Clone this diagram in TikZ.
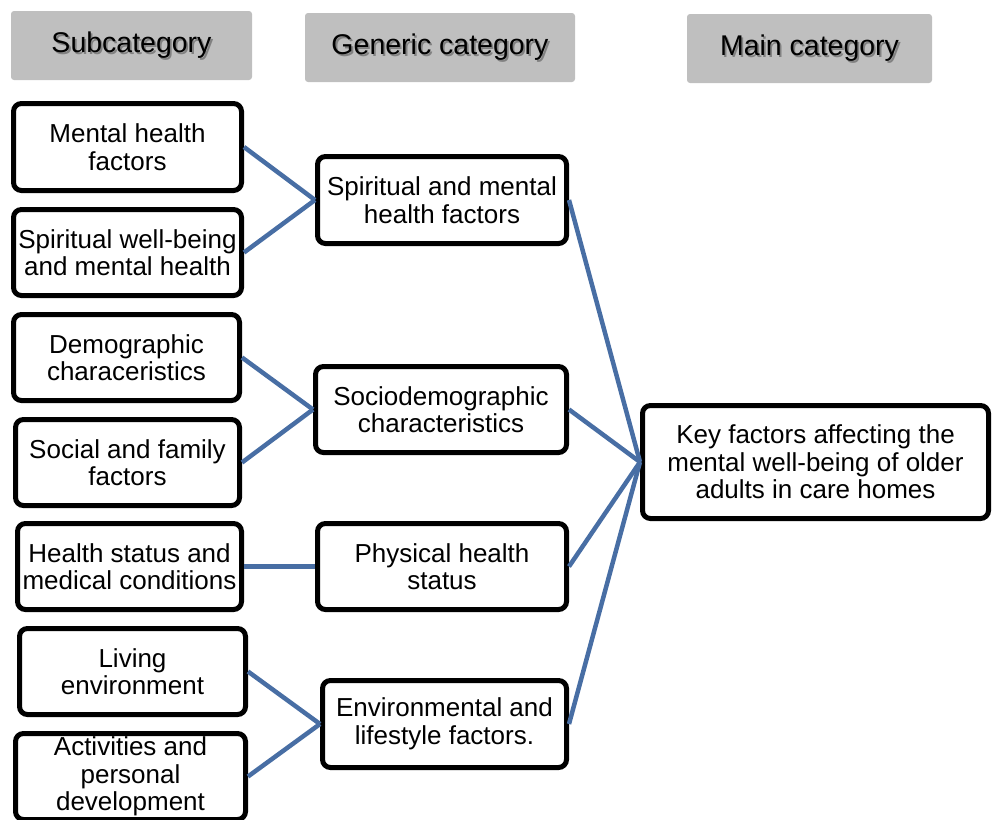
\documentclass[tikz,border=0pt]{standalone}
\usepackage{fontspec}
\setmainfont{Liberation Sans}
\begin{document}
\begin{tikzpicture}[x=1pt,y=-1pt,
  every node/.style={font=\fontsize{26}{27.5}\selectfont, align=center, inner sep=0pt},
  header/.style={fill=black!25, rounded corners=3pt, draw=none},
  headtext/.style={font=\fontsize{28.5}{30}\selectfont},
  headshadow/.style={headtext, text=black!65, opacity=0.6},
  catbox/.style={draw=black, line width=5pt, rounded corners=8pt, fill=white},
  link/.style={draw={rgb,255:red,72;green,110;blue,164}, line width=4.5pt}
]
\useasboundingbox (0,0) rectangle (992,819);

% column headers
\node[header, minimum width=241, minimum height=69] (h1) at (131.5,45.5) {};
\node[header, minimum width=270, minimum height=69] (h2) at (440,47.5) {};
\node[header, minimum width=245, minimum height=69] (h3) at (809.5,48.5) {};
\node[headshadow] (h1s) at ([shift={(1.8,1.8)}]h1.center) {Subcategory};
\node[headshadow] (h2s) at ([shift={(1.8,1.8)}]h2.center) {Generic category};
\node[headshadow] (h3s) at ([shift={(1.8,1.8)}]h3.center) {Main category};
\node[headtext] (h1t) at (h1.center) {Subcategory};
\node[headtext] (h2t) at (h2.center) {Generic category};
\node[headtext] (h3t) at (h3.center) {Main category};

% subcategories
\node[catbox, minimum width=228, minimum height=87] (l1) at (127.5,147) {Mental health\\factors};
\node[catbox, minimum width=228, minimum height=86] (l2) at (127.5,252.5) {Spiritual well-being\\and mental health};
\node[catbox, minimum width=226, minimum height=86] (l3) at (126.5,357.5) {Demographic\\characeristics};
\node[catbox, minimum width=224, minimum height=86] (l4) at (127.5,462.5) {Social and family\\factors};
\node[catbox, minimum width=224, minimum height=86] (l5) at (129.5,566.5) {Health status and\\medical conditions};
\node[catbox, minimum width=226, minimum height=86] (l6) at (132.5,671.5) {Living\\environment};
\node[catbox, minimum width=230, minimum height=86] (l7) at (130.5,776.5) {Activities and\\personal\\development};

% generic categories
\node[catbox, minimum width=249, minimum height=87] (m1) at (442,200) {Spiritual and mental\\health factors};
\node[catbox, minimum width=251, minimum height=86] (m2) at (441,409.5) {Sociodemographic\\characteristics};
\node[catbox, minimum width=249, minimum height=86] (m3) at (442,566.5) {Physical health\\status};
\node[catbox, minimum width=244, minimum height=87] (m4) at (444.5,724) {Environmental and\\lifestyle factors.};

% main category
\node[catbox, minimum width=346, minimum height=113] (r) at (815.5,462) {Key factors affecting the\\mental well-being of older\\adults in care homes};

% connectors
\draw[link] (l1.east) -- (m1.west);
\draw[link] (l2.east) -- (m1.west);
\draw[link] (l3.east) -- (m2.west);
\draw[link] (l4.east) -- (m2.west);
\draw[link] (l5.east) -- (m3.west);
\draw[link] (l6.east) -- (m4.west);
\draw[link] (l7.east) -- (m4.west);
\draw[link] (m1.east) -- (r.west);
\draw[link] (m2.east) -- (r.west);
\draw[link] (m3.east) -- (r.west);
\draw[link] (m4.east) -- (r.west);
\end{tikzpicture}
\end{document}
